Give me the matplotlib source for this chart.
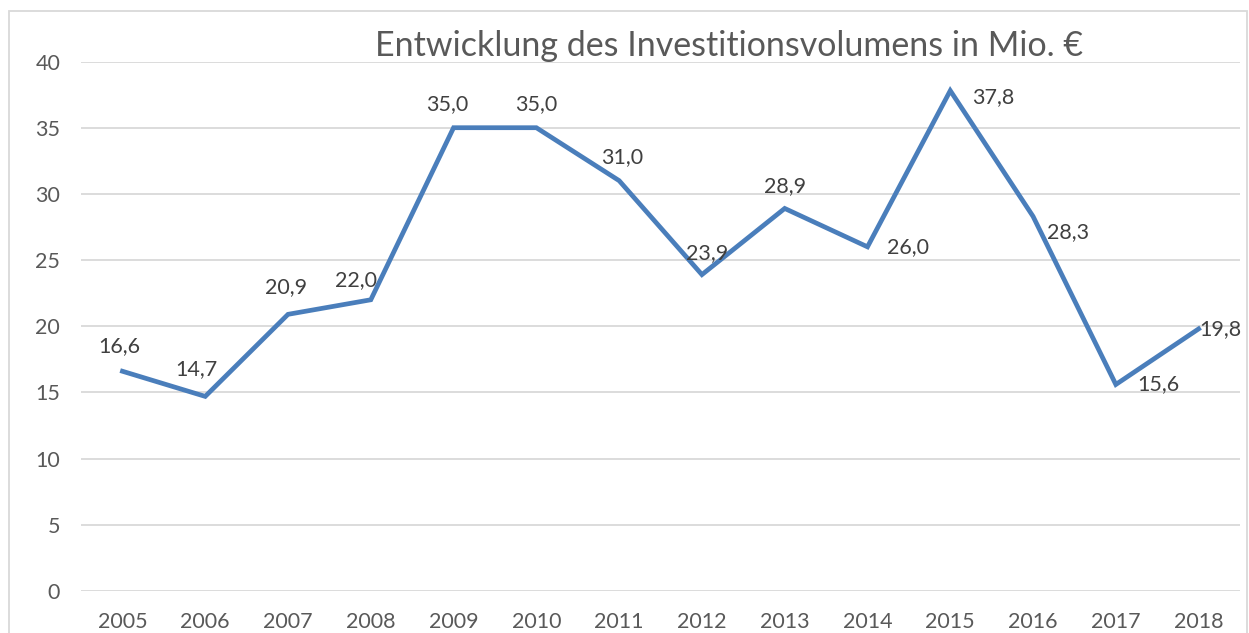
import matplotlib
matplotlib.use("Agg")
import matplotlib.pyplot as plt
from matplotlib.patches import Rectangle

years = ["2005", "2006", "2007", "2008", "2009", "2010", "2011",
         "2012", "2013", "2014", "2015", "2016", "2017", "2018"]
volumen = [16.6, 14.7, 20.9, 22.0, 35.0, 35.0, 31.0,
           23.9, 28.9, 26.0, 37.8, 28.3, 15.6, 19.8]
# label offsets in pixels (dx, dy up) relative to the point
offsets = [(-3, 25), (-9, 27), (-2, 27), (-15, 20), (-6, 24), (0, 24), (3, 24),
           (5, 22), (0, 22), (41, 0), (43, -6), (35, -16), (43, 0), (22, 0)]

plt.rcParams["font.family"] = ["Lato", "DejaVu Sans"]
grey = "#595959"

fig = plt.figure(figsize=(12.49, 6.33), dpi=100)
ax = fig.add_axes([0.0649, 0.0664, 0.9279, 0.8364])
x = range(len(years))
ax.plot(x, volumen, color="#4A7EBB", lw=3.4, solid_joinstyle="miter", zorder=3)
for i, v in enumerate(volumen):
    dx, dy = offsets[i]
    ax.annotate(f"{v:.1f}".replace(".", ","), (i, v), xytext=(dx * 0.72, dy * 0.72),
                textcoords="offset points", ha="center", va="center",
                fontsize=15.5, color="#404040", zorder=4)

ax.set_xlim(-0.5, len(years) - 0.5)
ax.set_ylim(0, 40)
ax.set_yticks(range(0, 41, 5))
ax.set_xticks(list(x))
ax.set_xticklabels(years)
ax.tick_params(axis="both", length=0, labelsize=15.5, labelcolor=grey)
ax.tick_params(axis="y", pad=15)
ax.tick_params(axis="x", pad=15)
ax.grid(axis="y", color="#D9D9D9", lw=1.3)
ax.set_axisbelow(True)
for s in ax.spines.values():
    s.set_visible(False)

fig.text(0.584, 0.928, "Entwicklung des Investitionsvolumens in Mio. €",
         ha="center", va="center", fontsize=24.5, color=grey)
fig.patches.append(Rectangle((9 / 1249, -0.05), 1238 / 1249, 1.05 - 11 / 633,
                             transform=fig.transFigure, fill=False,
                             edgecolor="#D9D9D9", lw=1.3))
fig.savefig("out.png", dpi=100)
